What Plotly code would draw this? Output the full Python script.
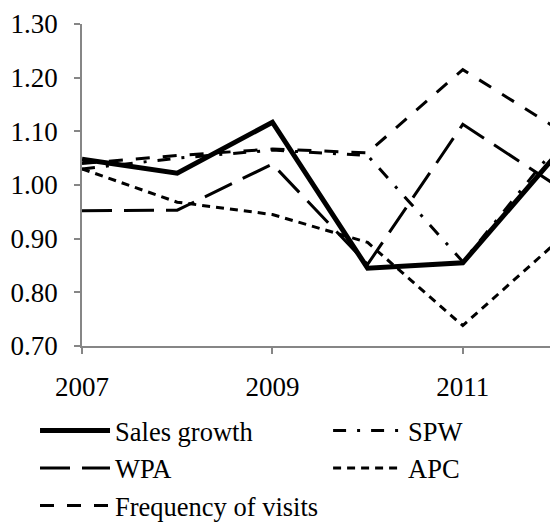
import plotly.graph_objects as go

years = [2007, 2008, 2009, 2010, 2011, 2012]
series_names = ["Sales growth", "SPW", "WPA", "APC", "Frequency of visits"]
sales_growth = [1.048, 1.022, 1.117, 0.845, 0.855, 1.060]
spw = [1.030, 1.050, 1.065, 1.055, 0.857, 1.075]
wpa = [0.952, 0.953, 1.039, 0.852, 1.113, 0.997]
apc = [1.030, 0.968, 0.945, 0.893, 0.738, 0.896]
freq_visits = [1.040, 1.055, 1.067, 1.060, 1.215, 1.104]
y_ticks = [0.70, 0.80, 0.90, 1.00, 1.10, 1.20, 1.30]
x_ticks = [2007, 2009, 2011]

values = [sales_growth, spw, wpa, apc, freq_visits]
styles = [
    dict(width=5, dash="solid", legend="legend"),
    dict(width=3, dash="13px,11px,3px,11px", legend="legend2"),
    dict(width=3, dash="30px,12px", legend="legend"),
    dict(width=3, dash="8px,6px", legend="legend2"),
    dict(width=3, dash="14px,13px", legend="legend"),
]

fig = go.Figure()
for name, vals, st in zip(series_names, values, styles):
    fig.add_trace(go.Scatter(
        x=years, y=vals, name=name, mode="lines", legend=st["legend"],
        line=dict(color="black", width=st["width"], dash=st["dash"]),
    ))

family = "Liberation Serif, Times New Roman, serif"
tick_font = dict(family=family, size=27, color="black")
leg_font = dict(family=family, size=26.5, color="black")
fig.update_layout(
    width=550, height=514,
    margin=dict(l=74, r=0, t=16, b=176, autoexpand=False),
    paper_bgcolor="white", plot_bgcolor="white",
    font=tick_font,
    showlegend=True,
    legend=dict(
        orientation="v", x=-0.0987, xanchor="left", y=-0.189, yanchor="top",
        itemwidth=70, font=leg_font, tracegroupgap=0, bgcolor="rgba(0,0,0,0)",
    ),
    legend2=dict(
        orientation="v", x=0.517, xanchor="left", y=-0.189, yanchor="top",
        itemwidth=70, font=leg_font, tracegroupgap=0, bgcolor="rgba(0,0,0,0)",
    ),
    xaxis=dict(
        range=[2007, 2012], tickvals=x_ticks, ticktext=[str(v) for v in x_ticks],
        showgrid=False, zeroline=False, showline=True, linecolor="#868686", linewidth=1.5,
        ticks="outside", ticklen=6, tickcolor="#868686", tickwidth=1.5,
        ticklabelstandoff=10, automargin=False, tickfont=tick_font,
    ),
    yaxis=dict(
        range=[0.70, 1.30], tickvals=y_ticks, ticktext=[f"{v:.2f}" for v in y_ticks],
        showgrid=False, zeroline=False, showline=True, linecolor="#868686", linewidth=1.5,
        ticks="outside", ticklen=6, tickcolor="#868686", tickwidth=1.5,
        ticklabelstandoff=11, automargin=False, tickfont=tick_font,
    ),
)
fig.write_html("out.html")
